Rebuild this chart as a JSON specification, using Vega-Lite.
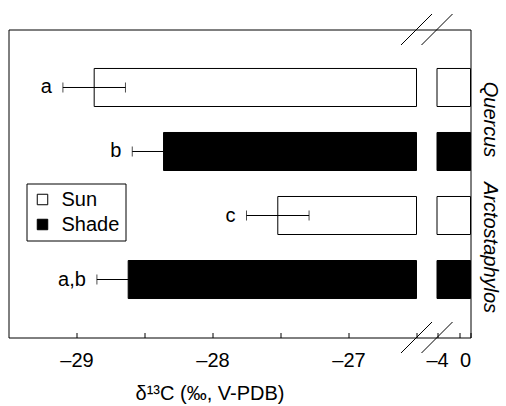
{
  "$schema": "https://vega.github.io/schema/vega-lite/v6.json",
  "padding": {"left": 8.5, "top": 11.5, "right": 6, "bottom": 0},
  "background": "white",
  "config": {
    "font": "Liberation Sans",
    "view": {"stroke": null},
    "axis": {"grid": false, "domainColor": "black", "tickColor": "black", "labelColor": "black", "titleColor": "black", "labelFontSize": 20, "titleFontSize": 20, "titleFontWeight": "normal", "domainWidth": 1, "tickWidth": 1}
  },
  "data": {"values": [
    {"species": "Quercus", "light": "Sun", "mean": -28.87, "lo": -29.10, "hi": -28.64, "letter": "a"},
    {"species": "Quercus", "light": "Shade", "mean": -28.36, "lo": -28.59, "hi": -28.13, "letter": "b"},
    {"species": "Arctostaphylos", "light": "Sun", "mean": -27.52, "lo": -27.75, "hi": -27.29, "letter": "c"},
    {"species": "Arctostaphylos", "light": "Shade", "mean": -28.62, "lo": -28.85, "hi": -28.39, "letter": "a,b"}
  ]},
  "hconcat": [
    {
      "width": 418,
      "height": 308,
      "layer": [
        {
          "encoding": {
            "y": {"field": "species", "type": "nominal", "scale": {"domain": ["Quercus", "Arctostaphylos"], "paddingInner": 0, "paddingOuter": 0.203}, "axis": {"orient": "left", "labels": false, "ticks": false, "domain": true, "title": null}},
            "yOffset": {"field": "light", "type": "nominal", "scale": {"domain": ["Sun", "Shade"], "paddingInner": 0.406, "paddingOuter": 0.203}}
          },
          "layer": [
            {
              "mark": {"type": "bar", "stroke": "black", "strokeWidth": 1},
              "encoding": {
                "x": {"field": "mean", "type": "quantitative", "scale": {"domain": [-29.5, -26.4265], "nice": false, "zero": false},
                  "axis": {"orient": "bottom", "values": [-29, -28.5, -28, -27.5, -27, -26.5], "labelExpr": "datum.value % 1 == 0 ? '–' + abs(datum.value) : ''", "tickSize": -5, "labelPadding": 18, "title": "δ¹³C (‰, V-PDB)", "titlePadding": 13, "titleX": 201, "titleAnchor": "middle", "titleAlign": "center"}},
                "x2": {"datum": -26.5},
                "fill": {"field": "light", "type": "nominal", "scale": {"domain": ["Sun", "Shade"], "range": ["white", "black"]},
                  "legend": {"orient": "none", "legendX": 18, "legendY": 154, "title": null, "strokeColor": "black", "padding": 6, "symbolType": "square", "symbolSize": 110, "symbolStrokeColor": "black", "symbolStrokeWidth": 1, "labelFontSize": 20, "labelOffset": 9, "rowPadding": 5, "labelColor": "black"}}
              }
            },
            {
              "mark": {"type": "rule", "color": "black", "strokeWidth": 1},
              "encoding": {
                "x": {"field": "lo", "type": "quantitative"},
                "x2": {"field": "hi"}
              }
            },
            {
              "mark": {"type": "tick", "orient": "vertical", "size": 10, "thickness": 1, "color": "black"},
              "encoding": {"x": {"field": "lo", "type": "quantitative"}}
            },
            {
              "mark": {"type": "tick", "orient": "vertical", "size": 10, "thickness": 1, "color": "black"},
              "encoding": {"x": {"field": "hi", "type": "quantitative"}}
            },
            {
              "mark": {"type": "text", "align": "right", "baseline": "middle", "dx": -11, "fontSize": 20, "fill": "black"},
              "encoding": {
                "x": {"field": "lo", "type": "quantitative"},
                "text": {"field": "letter"}
              }
            }
          ]
        },
        {
          "data": {"values": [{}]},
          "encoding": {
            "x": {"datum": -26.5, "type": "quantitative", "scale": {"domain": [-29.5, -26.4265], "nice": false, "zero": false}, "axis": {"orient": "top", "labels": false, "ticks": false, "domain": true, "title": null}}
          },
          "layer": [
            {
              "mark": {"type": "point", "shape": "M -1 1 L 1 -1", "size": 961, "filled": false, "stroke": "black", "strokeWidth": 1, "opacity": 1},
              "encoding": {
                "y": {"datum": 1, "type": "quantitative", "scale": {"domain": [0, 1], "nice": false}, "axis": null}
              }
            },
            {
              "mark": {"type": "point", "shape": "M -1 1 L 1 -1", "size": 961, "filled": false, "stroke": "black", "strokeWidth": 1, "opacity": 1},
              "encoding": {
                "y": {"datum": 0, "type": "quantitative", "scale": {"domain": [0, 1], "nice": false}, "axis": null}
              }
            }
          ]
        }
      ],
      "resolve": {"scale": {"y": "independent"}, "axis": {"x": "independent", "y": "independent"}}
    },
    {
      "width": 44,
      "height": 308,
      "layer": [
        {
          "mark": {"type": "bar", "stroke": "black", "strokeWidth": 1},
          "encoding": {
            "y": {"field": "species", "type": "nominal", "scale": {"domain": ["Quercus", "Arctostaphylos"], "paddingInner": 0, "paddingOuter": 0.203},
              "axis": {"orient": "right", "labels": true, "ticks": false, "domain": true, "title": null, "labelAngle": 90, "labelAlign": "center", "labelBaseline": "middle", "labelPadding": 19, "labelFontStyle": "italic", "labelFontSize": 20}},
            "yOffset": {"field": "light", "type": "nominal", "scale": {"domain": ["Sun", "Shade"], "paddingInner": 0.406, "paddingOuter": 0.203}},
            "x": {"datum": -4, "type": "quantitative", "scale": {"domain": [-5.254, 0], "nice": false, "zero": false},
              "axis": {"orient": "bottom", "values": [-4, -1.3, 0], "labelExpr": "datum.value == -4 ? '–4' : (datum.value == 0 ? '0' : '')", "tickSize": -5, "labelPadding": 18, "title": null}},
            "x2": {"datum": 0},
            "fill": {"field": "light", "type": "nominal", "scale": {"domain": ["Sun", "Shade"], "range": ["white", "black"]}, "legend": null}
          }
        },
        {
          "data": {"values": [{}]},
          "encoding": {
            "x": {"datum": -4, "type": "quantitative", "scale": {"domain": [-5.254, 0], "nice": false, "zero": false}, "axis": {"orient": "top", "labels": false, "ticks": false, "domain": true, "title": null}}
          },
          "layer": [
            {
              "mark": {"type": "point", "shape": "M -1 1 L 1 -1", "size": 961, "filled": false, "stroke": "black", "strokeWidth": 1, "opacity": 1},
              "encoding": {
                "y": {"datum": 1, "type": "quantitative", "scale": {"domain": [0, 1], "nice": false}, "axis": null}
              }
            },
            {
              "mark": {"type": "point", "shape": "M -1 1 L 1 -1", "size": 961, "filled": false, "stroke": "black", "strokeWidth": 1, "opacity": 1},
              "encoding": {
                "y": {"datum": 0, "type": "quantitative", "scale": {"domain": [0, 1], "nice": false}, "axis": null}
              }
            }
          ]
        }
      ],
      "resolve": {"scale": {"y": "independent"}, "axis": {"x": "independent", "y": "independent"}}
    }
  ],
  "spacing": 0,
  "bounds": "flush"
}
